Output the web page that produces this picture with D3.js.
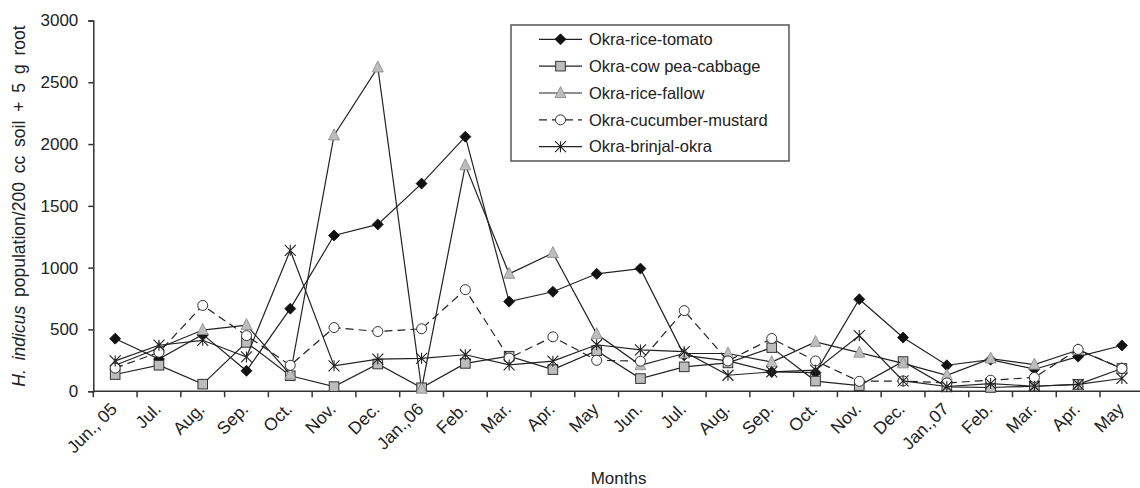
<!DOCTYPE html>
<html>
<head>
<meta charset="utf-8">
<script src="https://cdn.jsdelivr.net/npm/d3@7"></script>
<style>
  html, body { margin: 0; padding: 0; background: #fff; }
  svg { display: block; font-family: "Liberation Sans", Arial, sans-serif; }
</style>
</head>
<body>
<svg id="chart" width="1140" height="488"></svg>
<script>
// Monthly sampling dates, June 2005 to May 2007
const months = ["Jun., 05", "Jul.", "Aug.", "Sep.", "Oct.", "Nov.", "Dec.", "Jan.,06", "Feb.", "Mar.", "Apr.", "May",
                "Jun.", "Jul.", "Aug.", "Sep.", "Oct.", "Nov.", "Dec.", "Jan.,07", "Feb.", "Mar.", "Apr.", "May"];

// H. indicus population per cropping sequence
const okraRiceTomato      = [425, 260, 460, 165, 668, 1260, 1350, 1680, 2060, 725, 805, 950, 992, 290, 245, 156, 150, 744, 434, 210, 255, 178, 280, 370];
const okraCowpeaCabbage   = [135, 210, 57, 395, 125, 37, 220, 28, 225, 283, 175, 328, 102, 197, 229, 353, 82, 45, 240, 35, 30, 40, 55, 184];
const okraRiceFallow      = [210, 350, 495, 535, 135, 2070, 2620, 20, 1828, 950, 1118, 462, 210, 305, 305, 235, 399, 312, 225, 129, 264, 215, 333, 184];
const okraCucumberMustard = [187, 315, 694, 450, 210, 515, 483, 505, 822, 268, 440, 250, 243, 652, 245, 426, 245, 80, 83, 67, 89, 111, 338, 184];
const okraBrinjalOkra     = [245, 372, 412, 277, 1140, 205, 260, 266, 295, 213, 243, 376, 334, 320, 129, 156, 170, 450, 83, 38, 62, 40, 55, 103];

const seriesNames = ["Okra-rice-tomato", "Okra-cow pea-cabbage", "Okra-rice-fallow", "Okra-cucumber-mustard", "Okra-brinjal-okra"];
const yTicks = [0, 500, 1000, 1500, 2000, 2500, 3000];

const series = [
  { name: seriesNames[0], values: okraRiceTomato,      marker: "diamond",  dash: null },
  { name: seriesNames[1], values: okraCowpeaCabbage,   marker: "square",   dash: null },
  { name: seriesNames[2], values: okraRiceFallow,      marker: "triangle", dash: null },
  { name: seriesNames[3], values: okraCucumberMustard, marker: "circle",   dash: "8,5" },
  { name: seriesNames[4], values: okraBrinjalOkra,     marker: "star",     dash: null }
];

const svg = d3.select("#chart");
const plotLeft = 93.3, plotRight = 1143.8, plotTop = 20.5, plotBottom = 391.2;
const ink = "#222";
const axisInk = "#333";

const x = d3.scaleBand().domain(d3.range(months.length)).range([plotLeft, plotRight]).paddingInner(0).paddingOuter(0);
const y = d3.scaleLinear().domain([0, 3000]).range([plotBottom, plotTop]);
const cx = i => x(i) + x.bandwidth() / 2;

// Marker drawing
function drawMarker(g, type, px, py) {
  if (type === "diamond") {
    const s = 5.5;
    g.append("path").attr("d", `M${px},${py - s}L${px + s},${py}L${px},${py + s}L${px - s},${py}Z`)
      .attr("fill", "#111").attr("stroke", "#111").attr("stroke-width", 0.8);
  } else if (type === "square") {
    const s = 4.8;
    g.append("rect").attr("x", px - s).attr("y", py - s).attr("width", 2 * s).attr("height", 2 * s)
      .attr("fill", "#bdbdbd").attr("stroke", "#333").attr("stroke-width", 1);
  } else if (type === "triangle") {
    const s = 5.5;
    g.append("path").attr("d", `M${px},${py - s - 1}L${px + s},${py + s - 1}L${px - s},${py + s - 1}Z`)
      .attr("fill", "#bdbdbd").attr("stroke", "#888").attr("stroke-width", 0.8);
  } else if (type === "circle") {
    g.append("circle").attr("cx", px).attr("cy", py).attr("r", 5)
      .attr("fill", "#fff").attr("stroke", "#333").attr("stroke-width", 1);
  } else if (type === "star") {
    const s = 5.5;
    g.append("path")
      .attr("d", `M${px - s},${py - s}L${px + s},${py + s}M${px + s},${py - s}L${px - s},${py + s}M${px},${py - s}L${px},${py + s}`)
      .attr("fill", "none").attr("stroke", "#222").attr("stroke-width", 1.1);
  }
}

// Axes
const yAxis = d3.axisLeft(y).tickValues(yTicks).tickSize(5).tickPadding(10).tickFormat(d3.format("d"));
const gy = svg.append("g").attr("transform", `translate(${plotLeft},0)`).call(yAxis);
gy.select(".domain").attr("stroke", axisInk).attr("stroke-width", 1.5);
gy.selectAll(".tick line").attr("stroke", axisInk).attr("stroke-width", 1.5);
gy.selectAll(".tick text").attr("font-size", 17).attr("fill", "#222")
  .attr("font-family", "Liberation Sans, Arial, sans-serif");

const gx = svg.append("g");
gx.append("line").attr("x1", plotLeft).attr("x2", plotRight).attr("y1", plotBottom).attr("y2", plotBottom)
  .attr("stroke", axisInk).attr("stroke-width", 1.5);
d3.range(months.length + 1).forEach(i => {
  const tx = i < months.length ? x(i) : plotRight;
  gx.append("line").attr("x1", tx).attr("x2", tx).attr("y1", plotBottom).attr("y2", plotBottom + 6)
    .attr("stroke", axisInk).attr("stroke-width", 1.5);
});
gx.selectAll("text.month").data(months).join("text")
  .attr("class", "month")
  .attr("transform", (d, i) => `translate(${cx(i) + 3},${plotBottom + 19}) rotate(-45)`)
  .attr("text-anchor", "end")
  .attr("font-size", 17.5)
  .attr("fill", "#222")
  .text(d => d);

// Axis titles
svg.append("text").attr("x", (plotLeft + plotRight) / 2).attr("y", 484).attr("text-anchor", "middle")
  .attr("font-size", 17).attr("fill", "#222").text("Months");

const yt = svg.append("text").attr("transform", `translate(25,206) rotate(-90)`)
  .attr("text-anchor", "middle").attr("font-size", 17.5).attr("fill", "#222")
  .attr("word-spacing", "4px");
yt.append("tspan").attr("font-style", "italic").text("H. indicus");
yt.append("tspan").text(" population/200 cc soil + 5 g root");

// Series
const line = d3.line().x((d, i) => cx(i)).y(d => y(d));
const plot = svg.append("g");
series.forEach(s => {
  const g = plot.append("g");
  g.append("path").attr("d", line(s.values)).attr("fill", "none")
    .attr("stroke", ink).attr("stroke-width", 1.2)
    .attr("stroke-dasharray", s.dash);
  s.values.forEach((v, i) => drawMarker(g, s.marker, cx(i), y(v)));
});

// Legend
const lg = svg.append("g");
lg.append("rect").attr("x", 511).attr("y", 25).attr("width", 278).attr("height", 136)
  .attr("fill", "#fff").attr("stroke", "#555").attr("stroke-width", 1.5);
series.forEach((s, k) => {
  const ry = 39.3 + k * 26.85;
  lg.append("line").attr("x1", 539).attr("x2", 582).attr("y1", ry).attr("y2", ry)
    .attr("stroke", ink).attr("stroke-width", 1.2).attr("stroke-dasharray", s.dash);
  drawMarker(lg, s.marker, 560.5, ry);
  lg.append("text").attr("x", 589).attr("y", ry).attr("dy", "0.35em")
    .attr("font-size", 16.5).attr("fill", "#222").text(s.name);
});
</script>
</body>
</html>
